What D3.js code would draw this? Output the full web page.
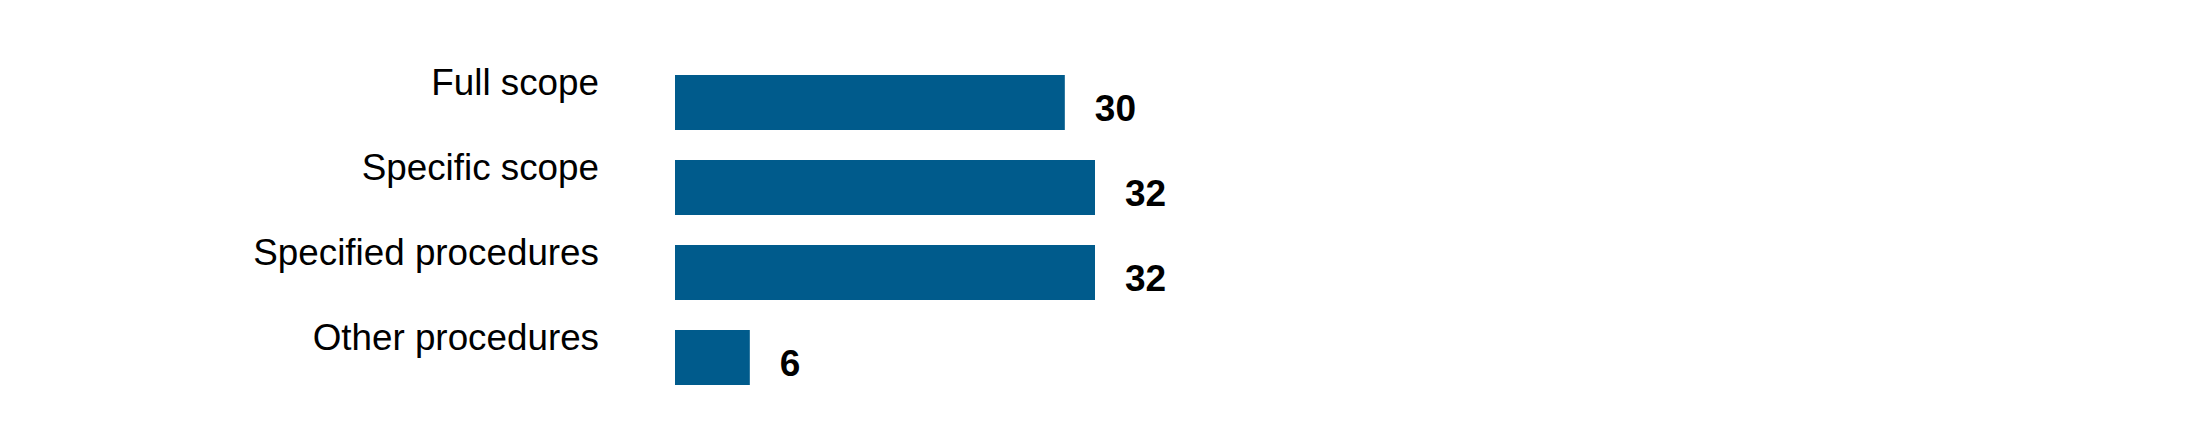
<!DOCTYPE html>
<html>
<head>
<meta charset="utf-8">
<script src="https://cdn.jsdelivr.net/npm/d3@7"></script>
<style>
  html, body { margin: 0; padding: 0; background: #fff; }
  svg { display: block; }
</style>
</head>
<body>
<svg id="chart" width="2200" height="440"></svg>
<script>
const categories = ["Full scope", "Specific scope", "Specified procedures", "Other procedures"];
const values = [29.7, 32, 32, 5.7];
const valueLabels = ["30", "32", "32", "6"];

const svg = d3.select("#chart");
const color = "#005b8c";

const y = d3.scaleBand()
  .domain(categories)
  .range([75, 385])
  .paddingInner(30 / 85)
  .paddingOuter(0);

const x = d3.scaleLinear()
  .domain([0, 32])
  .range([675, 1095]);

const axis = d3.axisLeft(y).tickSize(0).tickPadding(76);
const gAxis = svg.append("g")
  .attr("transform", `translate(${x(0)},0)`)
  .call(axis);
gAxis.select(".domain").remove();
gAxis.selectAll("text")
  .attr("font-family", "'Liberation Sans', Arial, sans-serif")
  .attr("font-size", 36.8)
  .attr("fill", "#000")
  .attr("dy", "-7.5px");

const rows = categories.map((c, i) => ({ c, v: values[i], label: valueLabels[i] }));

svg.append("g").selectAll("rect")
  .data(rows)
  .join("rect")
  .attr("x", x(0))
  .attr("y", d => y(d.c))
  .attr("width", d => x(d.v) - x(0))
  .attr("height", y.bandwidth())
  .attr("fill", color);

svg.append("g").selectAll("text")
  .data(rows)
  .join("text")
  .attr("x", d => x(d.v) + 30)
  .attr("y", d => y(d.c) + 46)
  .attr("font-family", "'Liberation Sans', Arial, sans-serif")
  .attr("font-weight", "bold")
  .attr("font-size", 37)
  .attr("fill", "#000")
  .text(d => d.label);
</script>
</body>
</html>
